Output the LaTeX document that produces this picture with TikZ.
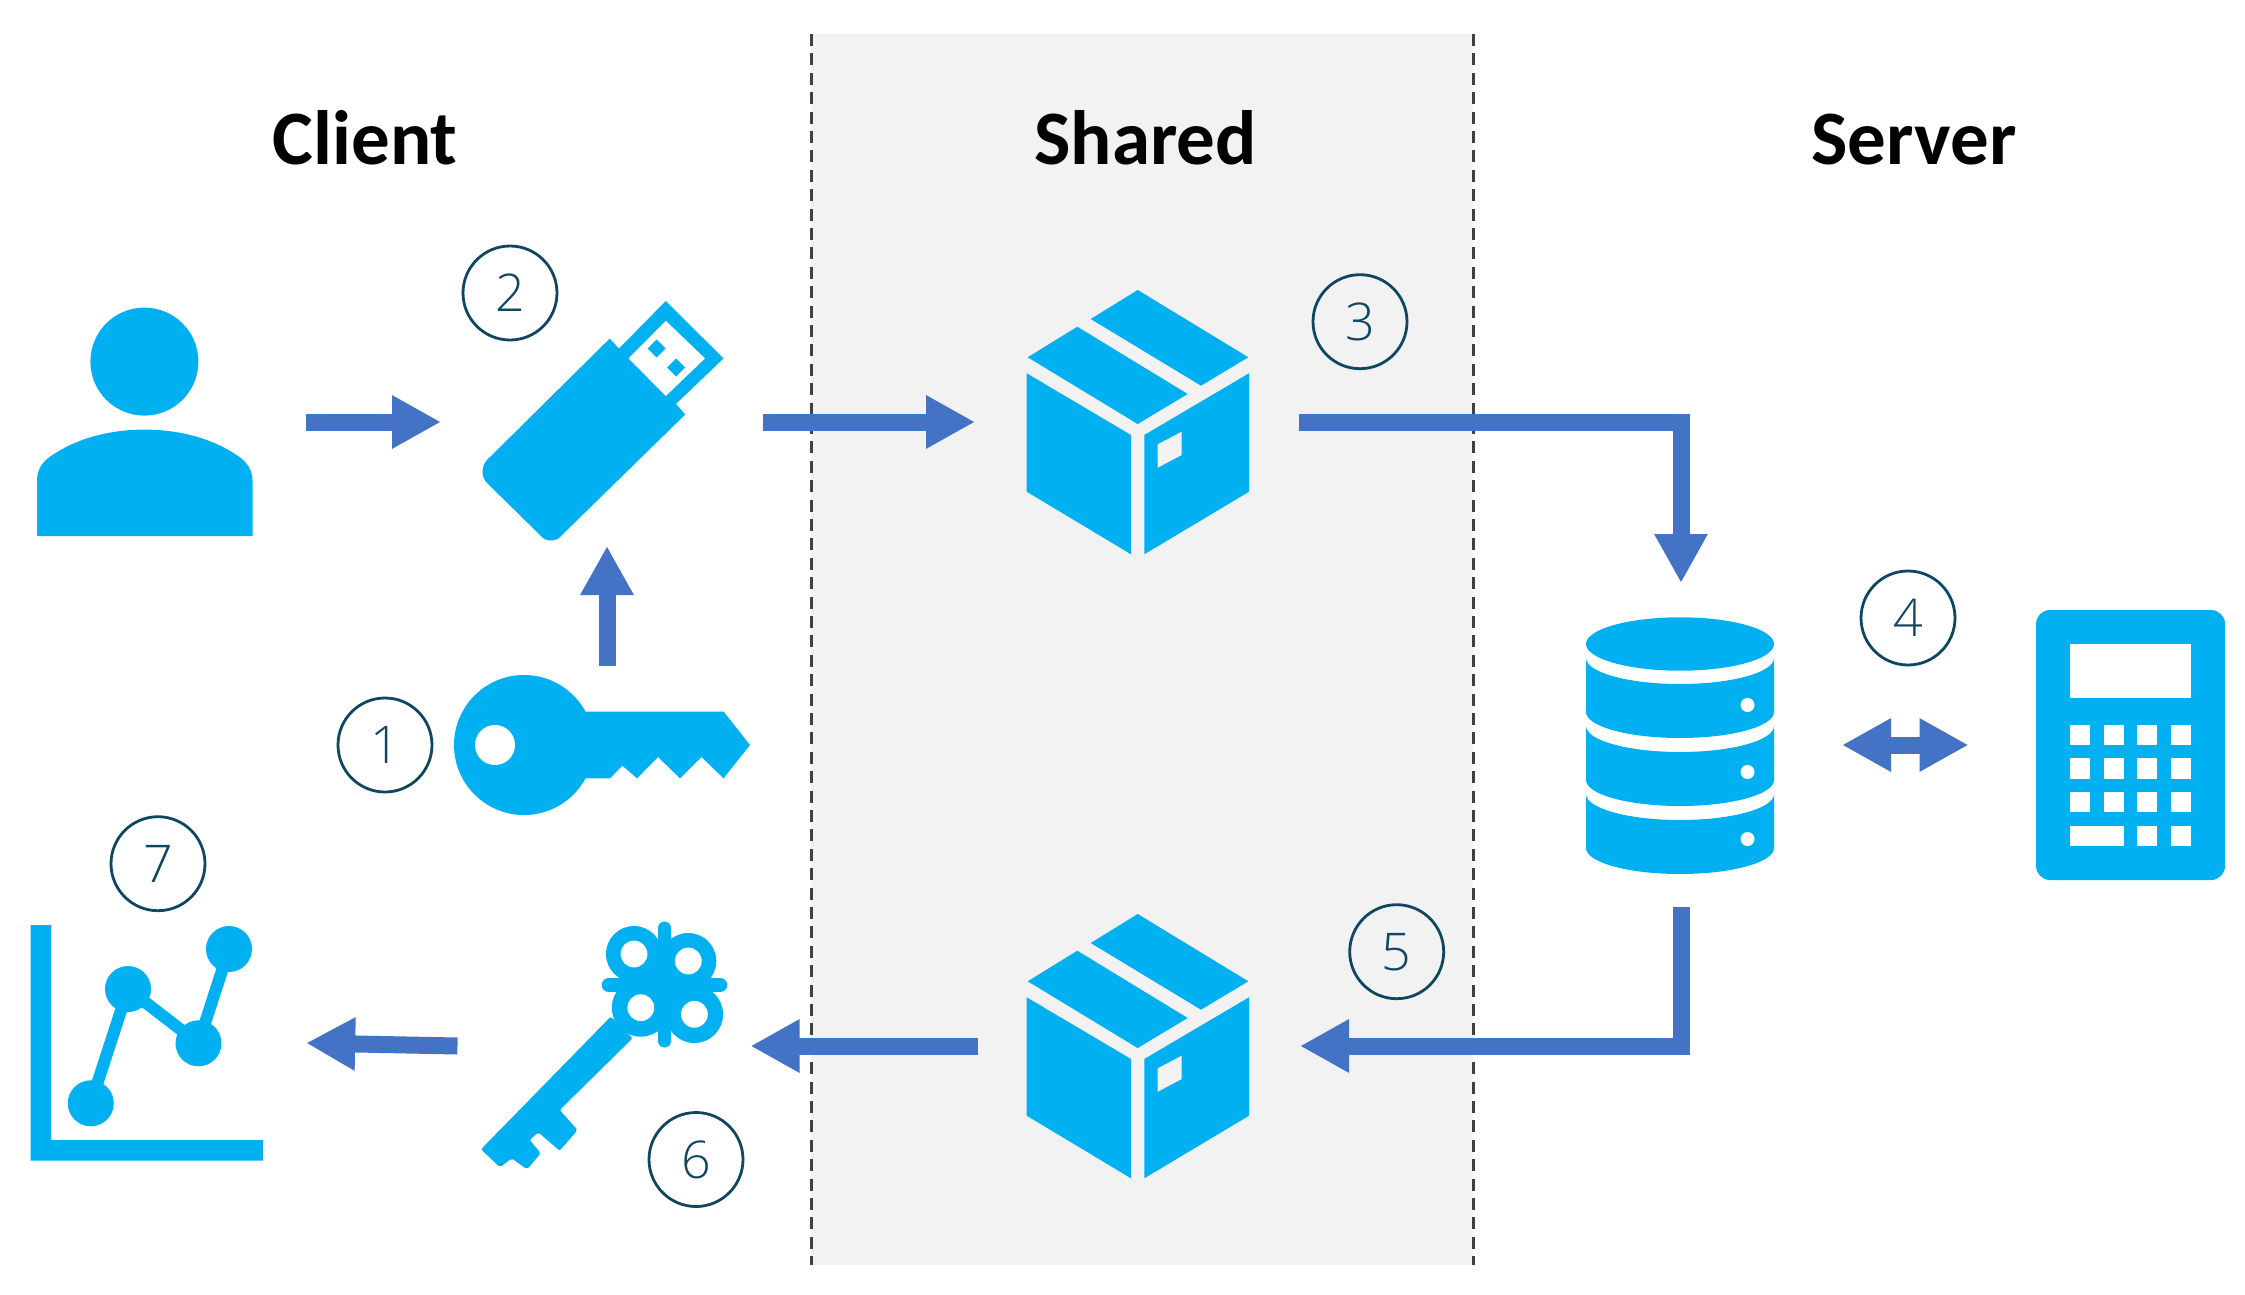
\documentclass[tikz,border=0pt]{standalone}
\usepackage{fontspec}
\setmainfont{Carlito}
\newfontfamily\badgefont{Open Sans Light}
\usepackage{xcolor}
\usetikzlibrary{arrows.meta,positioning,calc}
\definecolor{iconblue}{HTML}{00B0F0}
\definecolor{flowblue}{HTML}{4472C4}
\definecolor{bandgray}{HTML}{F2F2F2}
\definecolor{badgeink}{HTML}{0F4761}
\definecolor{dashink}{HTML}{404040}
\tikzset{
  iconbox/.style={inner sep=0pt,outer sep=0pt,minimum width=#1},
  iconfill/.style={fill=iconblue,draw=none},
  iconhole/.style={fill=white,draw=none},
  sidelabel/.style={font=\fontsize{77}{77}\selectfont\bfseries,anchor=base,text=black},
  badge/.style={circle,draw=badgeink,line width=2.8pt,minimum size=94pt,inner sep=0pt,
    text=badgeink,font=\badgefont\fontsize{52}{52}\selectfont},
  flow/.style={-{Triangle[length=49pt,width=50pt]},draw=flowblue,line width=17pt},
  flowboth/.style={{Triangle[length=49pt,width=50pt]}-{Triangle[length=49pt,width=50pt]},
    draw=flowblue,line width=17pt},
  banddash/.style={draw=dashink,line width=3pt,dash pattern=on 12pt off 7.4pt},
  parcelicon/.pic={
    \fill[iconfill] (1027.7,357.3) -- (1077.3,326.7) -- (1187.7,394) -- (1137.7,424) -- cycle;
    \fill[iconfill] (1090.7,319) -- (1137.7,290) -- (1248.3,357.3) -- (1201,385.7) -- cycle;
    \fill[iconfill] (1026.7,373.3) -- (1131,435) -- (1131,554.3) -- (1026.7,491.7) -- cycle;
    \fill[iconfill] (1144.3,435) -- (1249,373.3) -- (1249,491.7) -- (1144.3,554.3) -- cycle;
    \fill[fill=bandgray] (1157.7,444.3) -- (1181.7,431.7) -- (1181.7,455) -- (1157.7,467.7) -- cycle;
  }
}
\begin{document}
\begin{tikzpicture}[x=1pt,y=-1pt]
  \useasboundingbox (0,0) rectangle (2245,1295);
  \fill[bandgray] (811,34) rectangle (1473,1265);
  \draw[banddash] (811,34) -- (811,1265);
  \draw[banddash] (1473,34) -- (1473,1265);

  \node[sidelabel] (clientlabel) at (365,164.5) {Client};
  \node[sidelabel] (sharedlabel) at (1145.5,164.5) {Shared};
  \node[sidelabel] (serverlabel) at (1914,164.5) {Server};

  \node[iconbox=269pt,minimum height=229pt] (person) at (171.5,422) {};
  \node[iconbox=322pt,minimum height=248pt] (usbstick) at (602,422) {};
  \node[iconbox=306pt,minimum height=149pt] (plainkey) at (607,740.5) {};
  \node[iconbox=324pt,minimum height=264pt] (parcelup) at (1137,422) {};
  \node[iconbox=322pt,minimum height=324pt] (database) at (1681,745) {};
  \node[iconbox=256.5pt,minimum height=270pt] (calculator) at (2096.75,745) {};
  \node[iconbox=322pt,minimum height=264pt] (parceldown) at (1139,1046) {};
  \node[iconbox=293pt,minimum height=248pt] (fancykey) at (604,1046) {};
  \node[iconbox=276.4pt,minimum height=236pt] (chart) at (168,1043) {};

  \begin{scope}
    \fill[iconfill] (144.4,361.6) ellipse [x radius=54,y radius=54];
    \fill[iconfill] (37,536) -- (37,481) .. controls (37,470) and (42,462) .. (51,456)
      .. controls (80,436) and (115,429.6) .. (144.5,429.6)
      .. controls (174,429.6) and (209,436) .. (238,456)
      .. controls (247,462) and (252.5,470) .. (252.5,481) -- (252.5,536) -- cycle;
  \end{scope}

  \begin{scope}
    \fill[iconfill] (609.7,338.6) -- (619,348.5) -- (665.8,301) -- (723.5,358.4) -- (676,403.9)
      -- (685.2,414.5) -- (561,536) .. controls (557,542) and (545,542) .. (541,536)
      -- (487,483) .. controls (481,477) and (480,465) .. (490,457) -- cycle;
    \fill[iconhole] (665.8,320.8) -- (705,358.4) -- (665.8,396) -- (628.6,358.4) -- cycle;
    \fill[iconfill] (656.6,339.5) -- (665.6,348.5) -- (656.6,357.5) -- (647.6,348.5) -- cycle;
    \fill[iconfill] (676,358.5) -- (685,367.5) -- (676,376.5) -- (667,367.5) -- cycle;
  \end{scope}

  \begin{scope}
    \fill[iconfill] (524,745) ellipse [x radius=70,y radius=70];
    \fill[iconfill] (580,711.5) -- (723.5,711.5) -- (750,745) -- (723.5,778.3) -- (701.5,757)
      -- (680,778.3) -- (658,757) -- (637,778.3) -- (622.4,765.7) -- (610,778.3) -- (580,778.3) -- cycle;
    \fill[iconhole] (495,745) ellipse [x radius=20,y radius=20];
  \end{scope}

  \pic at (0,0) {parcelicon};
  \pic at (0,624) {parcelicon};

  \begin{scope}
    \fill[iconfill] (1586,644) arc[start angle=180,end angle=540,x radius=94,y radius=26.7];
    \foreach \bandy/\holey in {658/705,726/772,794/839}{
      \fill[iconfill] (1586,\bandy) arc[start angle=180,end angle=0,x radius=94,y radius=26]
        -- (1774,\bandy+54) arc[start angle=0,end angle=180,x radius=94,y radius=26] -- cycle;
      \fill[iconhole] (1747.5,\holey) ellipse [x radius=7,y radius=7];
    }
  \end{scope}

  \begin{scope}
    \fill[iconfill,rounded corners=14pt] (2036,610) rectangle (2225,880);
    \fill[iconhole] (2070,644) rectangle (2191.3,698.3);
    \foreach \keyy in {725,758.3,791.7}{
      \foreach \keyx in {2070,2104,2137,2171}{
        \fill[iconhole] (\keyx,\keyy) rectangle (\keyx+20.4,\keyy+20.3);
      }
    }
    \fill[iconhole] (2070,825.7) rectangle (2123.8,846);
    \fill[iconhole] (2137,825.7) rectangle (2157.4,846);
    \fill[iconhole] (2171,825.7) rectangle (2191.4,846);
  \end{scope}

  \begin{scope}
    \fill[iconfill] (634,954) ellipse [x radius=28,y radius=28];
    \fill[iconfill] (688.3,961) ellipse [x radius=28,y radius=28];
    \fill[iconfill] (640.8,1007.7) ellipse [x radius=29,y radius=29];
    \fill[iconfill] (694.4,1014.3) ellipse [x radius=28.7,y radius=28.7];
    \fill[iconfill] (634,954) -- (688.3,961) -- (694.4,1014.3) -- (640.8,1007.7) -- cycle;
    \draw[iconblue,line width=14.6pt,line cap=round] (609,985) -- (720,985);
    \draw[iconblue,line width=13pt,line cap=round] (664.5,928) -- (664.5,1041);
    \fill[iconfill,rounded corners=2pt] (610.7,1016.7) -- (632.6,1038.3) -- (559.7,1110) -- (577.6,1130)
      -- (559.7,1150.7) -- (538.3,1132.3) -- (529.6,1140) -- (540.8,1153.3) -- (527,1169.3)
      -- (511.7,1158.3) -- (500,1167.3) -- (481,1149.3) -- cycle;
    \fill[iconhole] (634,954) ellipse [x radius=13.4,y radius=13.4];
    \fill[iconhole] (688.3,961) ellipse [x radius=13.4,y radius=13.4];
    \fill[iconhole] (640.8,1007.7) ellipse [x radius=13.4,y radius=13.4];
    \fill[iconhole] (694.4,1014.3) ellipse [x radius=13.4,y radius=13.4];
  \end{scope}

  \begin{scope}
    \fill[iconfill] (30.6,925) -- (51,925) -- (51,1140) -- (262.8,1140) -- (262.8,1160.7)
      -- (30.6,1160.7) -- cycle;
    \draw[iconblue,line width=12pt] (90.8,1103.3) -- (128,989) -- (198.5,1043.3) -- (229,949);
    \foreach \dotx/\doty in {90.8/1103.3,128/989,198.5/1043.3,229/949}{
      \fill[iconfill] (\dotx,\doty) ellipse [x radius=23,y radius=23];
    }
  \end{scope}

  \draw[flow] (person.east) -- (usbstick.west);
  \draw[flow] (usbstick.east) -- (parcelup.west);
  \draw[flow] (plainkey.north) -- (plainkey.north |- usbstick.south);
  \draw[flow] (parcelup.east) -| (database.north);
  \draw[flowboth] (database.east) -- (calculator.west);
  \draw[flow] (database.south) |- (parceldown.east);
  \draw[flow] (parceldown.west) -- (fancykey.east);
  \draw[flow] (fancykey.west) -- (chart.east);

  \node[badge] (badgeone) at (385,745) {1};
  \node[badge] (badgetwo) at (510,293) {2};
  \node[badge] (badgethree) at (1360,321.7) {3};
  \node[badge] (badgefour) at (1908,618) {4};
  \node[badge] (badgefive) at (1396.7,951.7) {5};
  \node[badge] (badgesix) at (696,1159.5) {6};
  \node[badge] (badgeseven) at (158,863.7) {7};
\end{tikzpicture}
\end{document}
